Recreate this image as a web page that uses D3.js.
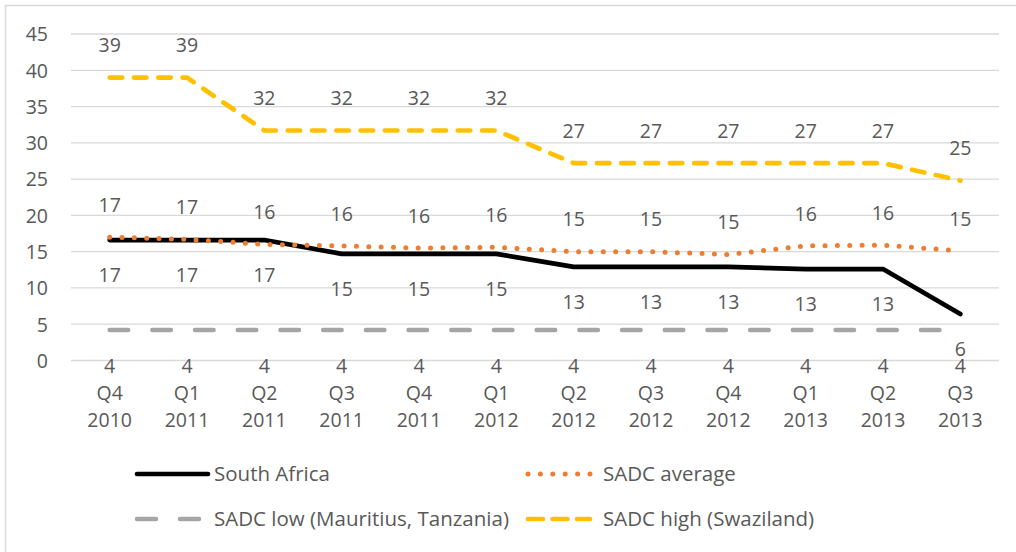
<!DOCTYPE html>
<html>
<head>
<meta charset="utf-8">
<script src="https://cdn.jsdelivr.net/npm/d3@7"></script>
<style>
  html, body { margin: 0; padding: 0; background: #fff; }
  svg { display: block; }
  text { font-family: "Open Sans", "Noto Sans", sans-serif; fill: #595959; }
</style>
</head>
<body>
<svg id="chart" width="1016" height="552"></svg>
<script>
const quarters = ["Q4", "Q1", "Q2", "Q3", "Q4", "Q1", "Q2", "Q3", "Q4", "Q1", "Q2", "Q3"];
const years    = ["2010", "2011", "2011", "2011", "2011", "2012", "2012", "2012", "2012", "2013", "2013", "2013"];
const categories = quarters.map((q, i) => q + " " + years[i]);

const southAfrica = [16.6, 16.6, 16.6, 14.7, 14.7, 14.7, 12.9, 12.9, 12.9, 12.6, 12.6, 6.4];
const sadcAverage = [17.0, 16.7, 16.0, 15.8, 15.5, 15.6, 15.0, 15.0, 14.6, 15.8, 15.9, 15.1];
const sadcLow     = [4.2, 4.2, 4.2, 4.2, 4.2, 4.2, 4.2, 4.2, 4.2, 4.2, 4.2, 4.2];
const sadcHigh    = [39.0, 39.0, 31.7, 31.7, 31.7, 31.7, 27.2, 27.2, 27.2, 27.2, 27.2, 24.8];

const yTicks = [0, 5, 10, 15, 20, 25, 30, 35, 40, 45];

const seriesNames = ["South Africa", "SADC average", "SADC low (Mauritius, Tanzania)", "SADC high (Swaziland)"];

const svg = d3.select("#chart");
const FS = 19.5;

// outer frame
svg.append("rect")
  .attr("x", 5.5).attr("y", 5.5)
  .attr("width", 1030).attr("height", 560)
  .attr("fill", "none").attr("stroke", "#d9d9d9").attr("stroke-width", 1.5);

const x = d3.scaleBand().domain(categories).range([71, 999]).padding(0);
const y = d3.scaleLinear().domain([0, 45]).range([360.5, 34]);
const cx = c => x(c) + x.bandwidth() / 2;

// gridlines
svg.append("g").selectAll("line").data(yTicks).join("line")
  .attr("x1", 71).attr("x2", 999)
  .attr("y1", d => y(d)).attr("y2", d => y(d))
  .attr("stroke", "#d9d9d9").attr("stroke-width", 1.3);

// y axis labels
const yAxis = d3.axisLeft(y).tickValues(yTicks).tickSize(0).tickPadding(0);
const gy = svg.append("g").attr("transform", "translate(48,0)").call(yAxis);
gy.select(".domain").remove();
gy.selectAll("text").attr("font-size", FS).style("fill", "#595959")
  .style("font-family", "'Open Sans', sans-serif").attr("dy", "0.35em");

// x axis labels (two lines)
const xAxis = d3.axisBottom(x).tickSize(0).tickFormat(() => "");
const gx = svg.append("g").attr("transform", "translate(0,360.5)").call(xAxis);
gx.select(".domain").remove();
gx.selectAll(".tick").each(function(d, i) {
  const t = d3.select(this).append("text")
    .attr("text-anchor", "middle").attr("font-size", FS)
    .style("fill", "#595959").style("font-family", "'Open Sans', sans-serif");
  t.append("tspan").attr("x", 0).attr("y", 39).text(quarters[i]);
  t.append("tspan").attr("x", 0).attr("y", 66).text(years[i]);
});

const line = d3.line().x((d, i) => cx(categories[i])).y(d => y(d));

const styles = [
  { data: southAfrica, color: "#000000", width: 4.7, dash: null, labelOffset: 35 },
  { data: sadcAverage, color: "#ED7D31", width: 5, dash: "0 12.35", labelOffset: -32 },
  { data: sadcLow, color: "#A5A5A5", width: 4.5, dash: "18.5 24.2", labelOffset: 36 },
  { data: sadcHigh, color: "#FFC000", width: 4.7, dash: "12.5 11.8", labelOffset: -32 }
];

// draw order: low, high, average, south africa
[2, 3, 0, 1].forEach(k => {
  const s = styles[k];
  svg.append("path").datum(s.data)
    .attr("d", line)
    .attr("fill", "none")
    .attr("stroke", s.color)
    .attr("stroke-width", s.width)
    .attr("stroke-linecap", "round")
    .attr("stroke-linejoin", "round")
    .attr("stroke-dasharray", s.dash);
});

// data labels
styles.forEach(s => {
  svg.append("g").selectAll("text").data(s.data).join("text")
    .attr("x", (d, i) => cx(categories[i]))
    .attr("y", d => y(d) + s.labelOffset)
    .attr("dy", "0.35em")
    .attr("text-anchor", "middle")
    .attr("font-size", FS)
    .text(d => Math.round(d));
});

// legend
const legendItems = [
  { name: seriesNames[0], s: styles[0], dash: null,     x1: 137, x2: 208, tx: 214, y: 474 },
  { name: seriesNames[1], s: styles[1], dash: "0 12.4", x1: 528, x2: 590, tx: 603, y: 474 },
  { name: seriesNames[2], s: styles[2], dash: "19 24",  x1: 137, x2: 203, tx: 214, y: 519 },
  { name: seriesNames[3], s: styles[3], dash: "15 9.5", x1: 528, x2: 590, tx: 603, y: 519 }
];
const lg = svg.append("g");
legendItems.forEach(it => {
  lg.append("line")
    .attr("x1", it.x1).attr("x2", it.x2)
    .attr("y1", it.y).attr("y2", it.y)
    .attr("stroke", it.s.color)
    .attr("stroke-width", it.s.width)
    .attr("stroke-linecap", "round")
    .attr("stroke-dasharray", it.dash);
  lg.append("text")
    .attr("x", it.tx).attr("y", it.y).attr("dy", "0.35em")
    .attr("font-size", 20.5)
    .text(it.name);
});
</script>
</body>
</html>
